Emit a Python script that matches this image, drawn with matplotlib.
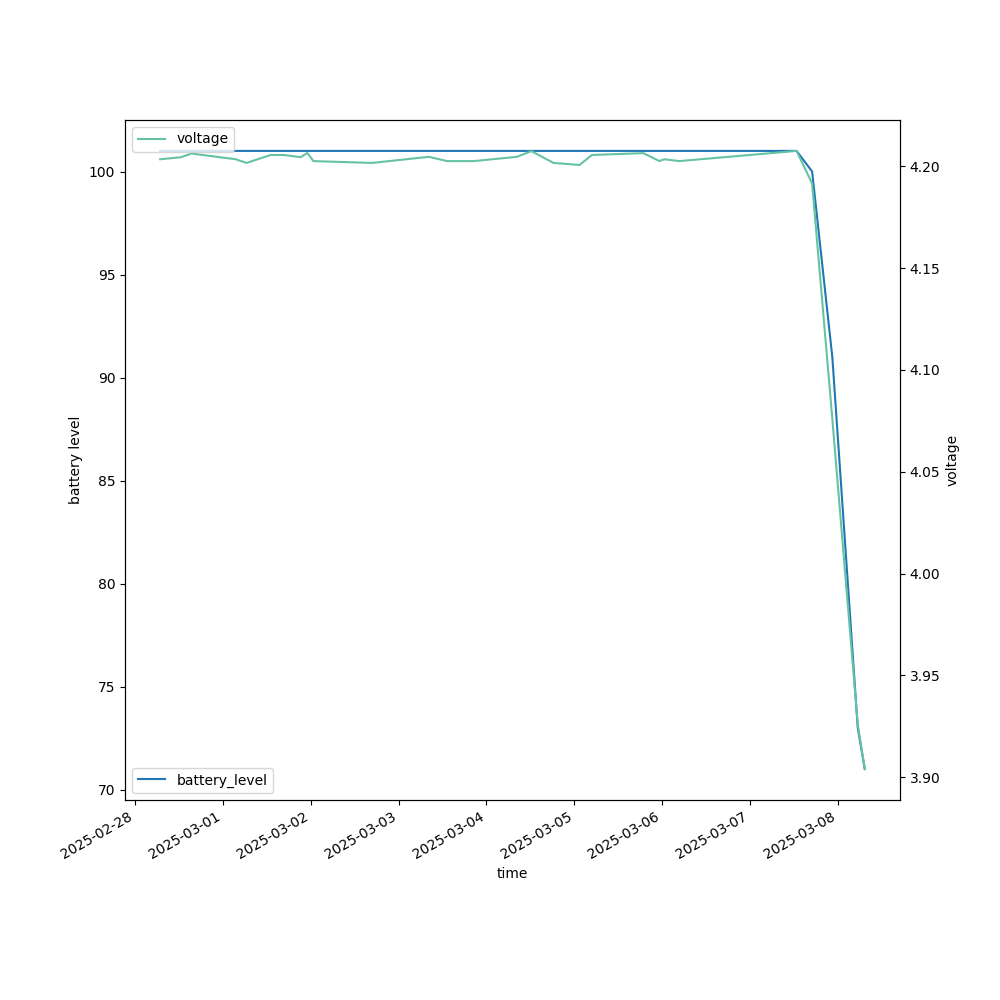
import numpy as np
import pandas as pd
import matplotlib
matplotlib.use("Agg")
import matplotlib.pyplot as plt

# readings
time = pd.to_datetime([
    "2025-02-28 06:54", "2025-02-28 12:33", "2025-02-28 15:28",
    "2025-03-01 03:33", "2025-03-01 06:27", "2025-03-01 13:05",
    "2025-03-01 16:43", "2025-03-01 21:16", "2025-03-01 23:06",
    "2025-03-02 00:44", "2025-03-02 16:49", "2025-03-03 08:16",
    "2025-03-03 13:16", "2025-03-03 20:32", "2025-03-04 08:22",
    "2025-03-04 12:16", "2025-03-04 18:21", "2025-03-05 01:26",
    "2025-03-05 04:50", "2025-03-05 18:54", "2025-03-05 23:16",
    "2025-03-06 00:33", "2025-03-06 04:43", "2025-03-07 12:44",
    "2025-03-07 16:59", "2025-03-07 22:30", "2025-03-08 05:27",
    "2025-03-08 07:22",
])
battery_level = [101] * 24 + [100, 91, 73, 71]
voltage = [4.2034, 4.2044, 4.2062, 4.2034, 4.2016, 4.2055, 4.2055,
           4.2044, 4.2065, 4.2025, 4.2016, 4.2046, 4.2025, 4.2025,
           4.2046, 4.2074, 4.2016, 4.2006, 4.2055, 4.2064, 4.2025,
           4.2034, 4.2025, 4.2075, 4.1915, 4.076, 3.926, 3.904]

fig, ax = plt.subplots(figsize=(10, 10))
ax.plot(time, battery_level, color="#1f77b4", label="battery_level")
ax.set_xlabel("time")
ax.set_ylabel("battery level")
ax.legend(loc="lower left")

ax2 = ax.twinx()
ax2.plot(time, voltage, color="#66c2a5", label="voltage")
ax2.set_ylabel("voltage")
ax2.legend(loc="upper left")

fig.autofmt_xdate()
fig.savefig("out.png", dpi=100)
